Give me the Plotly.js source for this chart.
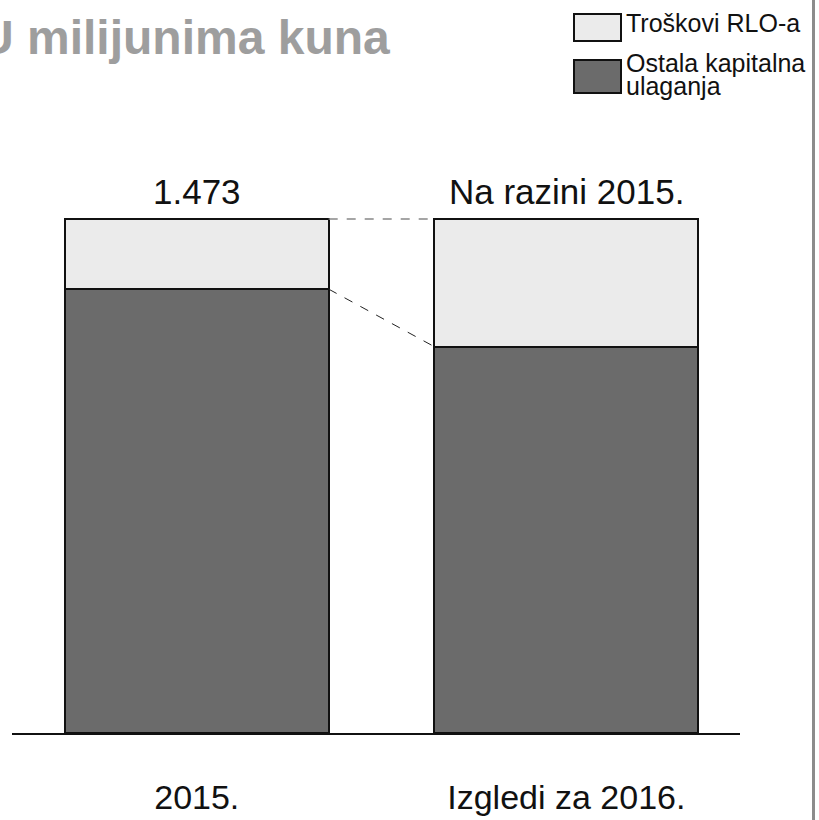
<!DOCTYPE html>
<html>
<head>
<meta charset="utf-8">
<script src="https://cdn.plot.ly/plotly-3.0.1.min.js"></script>
<style>
  html, body { margin: 0; padding: 0; background: #ffffff; }
  #chart { width: 819px; height: 820px; }
</style>
</head>
<body>
<div id="chart"></div>
<script>
// ---- data ----
const categories = ['2015.', 'Izgledi za 2016.'];
const otherCapexValues = [1272, 1107];   // Ostala kapitalna ulaganja
const rloValues = [201, 366];            // Troškovi RLO-a
const topLabels = ['1.473', 'Na razini 2015.'];
const seriesNames = ['Troškovi RLO-a', 'Ostala kapitalna', 'ulaganja'];
const chartTitle = 'U milijunima kuna';

// ---- layout geometry (pixels) ----
const W = 819, Hh = 820;
const L = 12, R = 79, T = 150, B = 87;
const PW = W - L - R, PH = Hh - T - B;
const px2x = p => (p - L) / PW;
const py2y = p => (Hh - B - p) / PH;
const barWidth = 0.714;
const FONT = 'Liberation Sans, Arial, sans-serif';

const totals = otherCapexValues.map((v, i) => v + rloValues[i]);

const traces = [
  {
    type: 'bar', x: categories, y: otherCapexValues, name: seriesNames[1] + ' ' + seriesNames[2],
    marker: { color: '#6b6b6b', line: { color: '#111111', width: 2 } },
    hoverinfo: 'skip'
  },
  {
    type: 'bar', x: categories, y: rloValues, name: seriesNames[0],
    marker: { color: '#ebebeb', line: { color: '#111111', width: 2 } },
    hoverinfo: 'skip'
  }
];

const shapes = [
  // connectors between bars
  { type: 'line', xref: 'x', yref: 'y', x0: 0 + barWidth / 2, x1: 1 - barWidth / 2,
    y0: totals[0], y1: totals[1], line: { color: '#888888', width: 1.5, dash: 'dash' } },
  { type: 'line', xref: 'x', yref: 'y', x0: 0 + barWidth / 2, x1: 1 - barWidth / 2,
    y0: otherCapexValues[0], y1: otherCapexValues[1], line: { color: '#222222', width: 1, dash: 'dash' } },
  // legend boxes
  { type: 'rect', xref: 'paper', yref: 'paper', x0: px2x(574), x1: px2x(621), y0: py2y(14), y1: py2y(41),
    fillcolor: '#ebebeb', line: { color: '#111111', width: 2 } },
  { type: 'rect', xref: 'paper', yref: 'paper', x0: px2x(574), x1: px2x(621), y0: py2y(60), y1: py2y(93),
    fillcolor: '#6b6b6b', line: { color: '#111111', width: 2 } },
  // right frame line
  { type: 'line', xref: 'paper', yref: 'paper', x0: px2x(813.5), x1: px2x(813.5), y0: py2y(0), y1: py2y(820),
    line: { color: '#8c8c8c', width: 3 } }
];

const annotations = [
  { xref: 'paper', yref: 'paper', x: px2x(-23), y: py2y(37), xanchor: 'left', yanchor: 'middle',
    text: chartTitle, showarrow: false,
    font: { family: FONT, size: 48, color: '#9e9e9e', weight: 'bold' } },
  { xref: 'paper', yref: 'paper', x: px2x(625), y: py2y(23), xanchor: 'left', yanchor: 'middle',
    text: seriesNames[0], showarrow: false, borderpad: 0,
    font: { family: FONT, size: 25, color: '#111111' } },
  { xref: 'paper', yref: 'paper', x: px2x(625), y: py2y(63), xanchor: 'left', yanchor: 'middle',
    text: seriesNames[1], showarrow: false, borderpad: 0,
    font: { family: FONT, size: 25, color: '#111111' } },
  { xref: 'paper', yref: 'paper', x: px2x(625), y: py2y(86), xanchor: 'left', yanchor: 'middle',
    text: seriesNames[2], showarrow: false, borderpad: 0,
    font: { family: FONT, size: 25, color: '#111111' } }
];
categories.forEach((c, i) => {
  annotations.push({
    xref: 'x', yref: 'y', x: i, y: totals[i], xanchor: 'center', yanchor: 'bottom', yshift: 6,
    text: topLabels[i], showarrow: false,
    font: { family: FONT, size: 35, color: '#111111' }
  });
});

const layout = {
  width: W, height: Hh,
  margin: { l: L, r: R, t: T, b: B, pad: 0 },
  paper_bgcolor: '#ffffff', plot_bgcolor: '#ffffff',
  barmode: 'stack', bargap: 1 - barWidth,
  showlegend: false,
  xaxis: {
    type: 'category', range: [-0.5, 1.47], fixedrange: true,
    showline: true, linecolor: '#111111', linewidth: 2,
    ticks: '', showgrid: false, zeroline: false,
    ticklabelstandoff: 33,
    tickfont: { family: FONT, size: 34, color: '#111111' }
  },
  yaxis: {
    range: [0, 1473 * PH / 514], visible: false, showgrid: false, zeroline: false, fixedrange: true
  },
  shapes: shapes,
  annotations: annotations
};

Plotly.newPlot('chart', traces, layout, { displayModeBar: false, staticPlot: true });
</script>
</body>
</html>
